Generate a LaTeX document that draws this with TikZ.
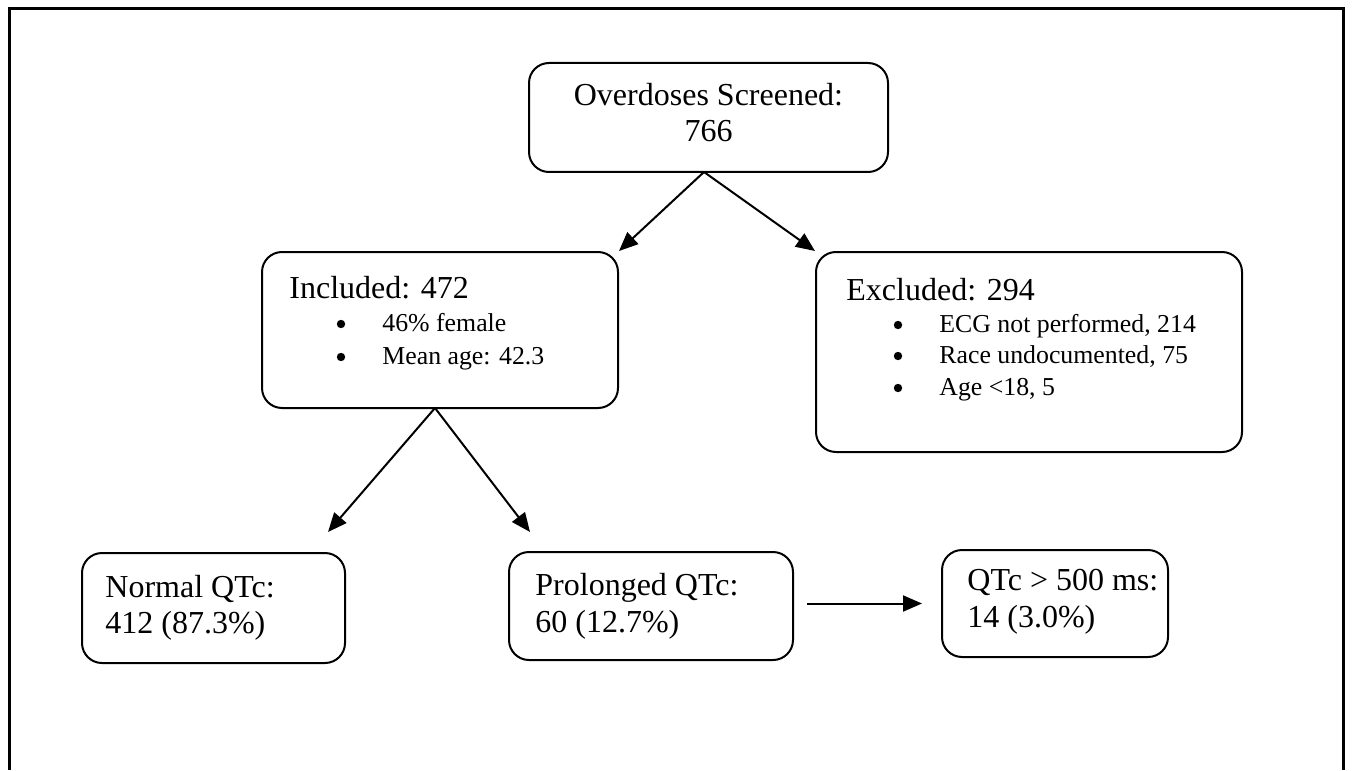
\documentclass[tikz,border=0pt]{standalone}
\usepackage{fontspec}
\setmainfont{Liberation Serif}
\usetikzlibrary{arrows.meta}
\begin{document}
\begin{tikzpicture}[x=0.5pt,y=-0.5pt,
  box/.style={draw,line width=1pt,rounded corners=10pt,inner sep=0pt},
  txt/.style={inner sep=0pt,anchor=base west,font=\fontsize{16}{18}\selectfont},
  ctxt/.style={inner sep=0pt,anchor=base,font=\fontsize{16}{18}\selectfont},
  btxt/.style={inner sep=0pt,anchor=base west,font=\fontsize{12.9}{15}\selectfont},
  bul/.style={circle,fill,inner sep=0pt,minimum size=4.2pt},
  arr/.style={line width=1pt,-{Triangle[length=9.5pt,width=8pt]}}]
\useasboundingbox (0,0) rectangle (1352,770);
% outer frame (open at bottom)
\draw[line width=1.5pt] (9,770) -- (9,9) -- (1343,9) -- (1343,770);
% boxes
\node[box,minimum width=179.5pt,minimum height=54.5pt] (top) at (708.5,117.5) {};
\node[box,minimum width=178pt,minimum height=78pt] (incl) at (440,330) {};
\node[box,minimum width=213pt,minimum height=100pt] (excl) at (1029,352) {};
\node[box,minimum width=131.5pt,minimum height=55pt] (norm) at (213.5,608) {};
\node[box,minimum width=142pt,minimum height=54pt] (prol) at (651,606) {};
\node[box,minimum width=113pt,minimum height=53.5pt] (qtc) at (1055,603.5) {};
% texts
\node[ctxt] (t1) at (708.5,106) {Overdoses Screened:};
\node[ctxt] (t2) at (708.5,142) {766};
\node[txt] (i0) at (289,298) {Included: 472};
\node[bul] (ib1) at (341,324) {};
\node[btxt] (i1) at (382,331) {46\% female};
\node[bul] (ib2) at (341,357) {};
\node[btxt] (i2) at (382,364) {Mean age: 42.3};
\node[txt] (e0) at (846,300) {Excluded: 294};
\node[bul] (eb1) at (898,325) {};
\node[btxt] (e1) at (939,332) {ECG not performed, 214};
\node[bul] (eb2) at (898,356) {};
\node[btxt] (e2) at (939,363) {Race undocumented, 75};
\node[bul] (eb3) at (898,388) {};
\node[btxt] (e3) at (939,395) {Age <18, 5};
\node[txt] (n1) at (105,597) {Normal QTc:};
\node[txt] (n2) at (105,633) {412 (87.3\%)};
\node[txt] (p1) at (535,595) {Prolonged QTc:};
\node[txt] (p2) at (535,632) {60 (12.7\%)};
\node[txt] (q1) at (967,590) {QTc > 500 ms:};
\node[txt] (q2) at (967,627) {14 (3.0\%)};
% connectors
\coordinate (ts) at (704,172);
\coordinate (is) at (435,408);
\coordinate (nt) at (328,532);
\coordinate (pt) at (530,532);
\draw[arr] (ts) -- (incl.north east);
\draw[arr] (ts) -- (excl.north west);
\draw[arr] (is) -- (nt);
\draw[arr] (is) -- (pt);
\draw[arr,shorten <=6.5pt,shorten >=9.5pt] (prol.east |- qtc.west) -- (qtc.west);
\end{tikzpicture}
\end{document}
